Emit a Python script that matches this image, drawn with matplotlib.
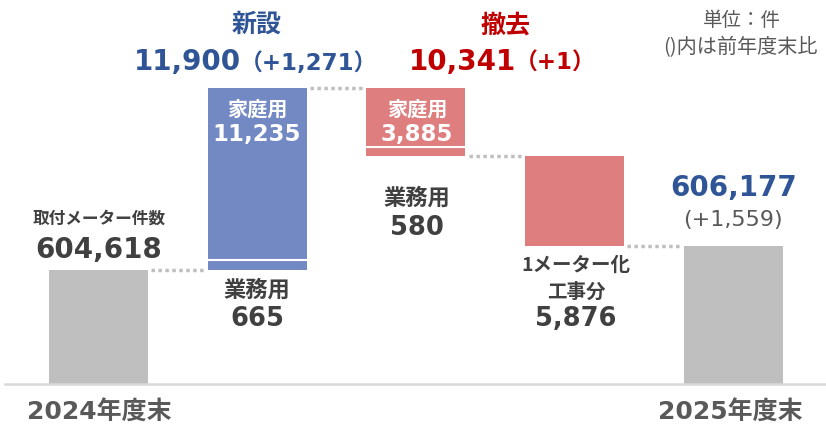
import matplotlib
matplotlib.use("Agg")
import matplotlib.pyplot as plt

# data
start_total = 604618
end_total = 606177
new_home = 11235
new_biz = 665
rem_home = 3885
rem_biz = 580
rem_one_meter = 5876
new_total = 11900
new_diff = "+1,271"
rem_total = 10341
rem_diff = "+1"
end_diff = "+1,559"
years = ["2024年度末", "2025年度末"]

FAM = ["DejaVu Sans", "Noto Sans CJK JP"]
JP = ["Noto Sans CJK JP", "DejaVu Sans"]
BLUE_TXT = "#2F5597"
RED_TXT = "#C00000"
DARK = "#404040"
GRAY_TXT = "#595959"
GRAY_BAR = "#BFBFBF"
BLUE_BAR = "#7389C4"
RED_BAR = "#DE7E7E"

W, H = 826, 429
px = 0.01529  # pixels per meter
ymin = start_total - (H - 270) / px
ymax = start_total + 270 / px
base = ymin + (H - 384) / px

fig = plt.figure(figsize=(W / 100, H / 100), dpi=100)
ax = fig.add_axes([0, 0, 1, 1])
ax.set_xlim(-0.620, 4.583)
ax.set_ylim(ymin, ymax)
ax.axis("off")

bw = 0.624
top_new = start_total + new_total
# start / end
ax.bar(0, start_total - base, bottom=base, width=bw, color=GRAY_BAR)
ax.bar(4, end_total - base, bottom=base, width=bw, color=GRAY_BAR)
# new
ax.bar(1, new_biz, bottom=start_total, width=bw, color=BLUE_BAR)
ax.bar(1, new_home, bottom=start_total + new_biz, width=bw, color=BLUE_BAR)
ax.hlines(start_total + new_biz, 1 - bw / 2, 1 + bw / 2, color="white", lw=1.5)
# removal
ax.bar(2, rem_home, bottom=top_new - rem_home, width=bw, color=RED_BAR)
ax.bar(2, rem_biz, bottom=top_new - rem_home - rem_biz, width=bw, color=RED_BAR)
ax.hlines(top_new - rem_home, 2 - bw / 2, 2 + bw / 2, color="white", lw=1.5)
ax.bar(3, rem_one_meter, bottom=end_total, width=bw, color=RED_BAR)

# connectors
conn = [(0, start_total), (1, top_new), (2, top_new - rem_home - rem_biz), (3, end_total)]
for i, y in conn:
    ax.hlines(y, i + bw / 2 + 0.02, i + 1 - bw / 2 - 0.02, color=GRAY_BAR, lw=2.5,
              linestyles=(0, (1, 1)))

# baseline
ax.axhline(base, xmin=0.006, xmax=1, color="#D9D9D9", lw=1.8)


def t(x, y, s, size, color, weight="bold", fam=FAM, ha="center", va="center"):
    fig.text(x / W, 1 - y / H, s, fontsize=size, color=color, fontweight=weight,
             family=fam, ha=ha, va=va)


# headers
t(257, 25, "新設", 18, BLUE_TXT, fam=JP)
t(241, 70, f"{new_total:,}", 20, BLUE_TXT, ha="right", va="baseline")
t(240, 70, f"（{new_diff}）", 16.5, BLUE_TXT, ha="left", va="baseline")
t(505, 25, "撤去", 18, RED_TXT, fam=JP)
t(516, 70, f"{rem_total:,}", 20, RED_TXT, ha="right", va="baseline")
t(515, 70, f"（{rem_diff}）", 16.5, RED_TXT, ha="left", va="baseline")
t(742, 20, "単位：件", 14, GRAY_TXT, weight="normal", fam=JP)
t(740, 48, "()内は前年度末比", 14.5, GRAY_TXT, weight="normal", fam=JP)

# start label
t(99, 219, "取付メーター件数", 12, DARK, fam=JP)
t(99, 250, f"{start_total:,}", 20, DARK)
# inside bars
t(257, 109, "家庭用", 14.5, "white", fam=JP)
t(257, 135, f"{new_home:,}", 16.5, "white")
t(417, 109, "家庭用", 14.5, "white", fam=JP)
t(417, 135, f"{rem_home:,}", 16.5, "white")
# below bars
t(257, 290, "業務用", 16, DARK, fam=JP)
t(257, 319, f"{new_biz:,}", 18.5, DARK)
t(417, 198, "業務用", 16, DARK, fam=JP)
t(417, 228, f"{rem_biz:,}", 18.5, DARK)
t(576, 265, "1メーター化", 14, DARK, fam=JP)
t(576, 292, "工事分", 14, DARK, fam=JP)
t(576, 319, f"{rem_one_meter:,}", 18.5, DARK)
# end label
t(734, 188, f"{end_total:,}", 20, BLUE_TXT)
t(733, 220, f"({end_diff})", 16, GRAY_TXT, weight="normal")
# year labels
t(99, 413, years[0], 18, GRAY_TXT)
t(730, 413, years[1], 18, GRAY_TXT)

fig.savefig("out.png", dpi=100)
